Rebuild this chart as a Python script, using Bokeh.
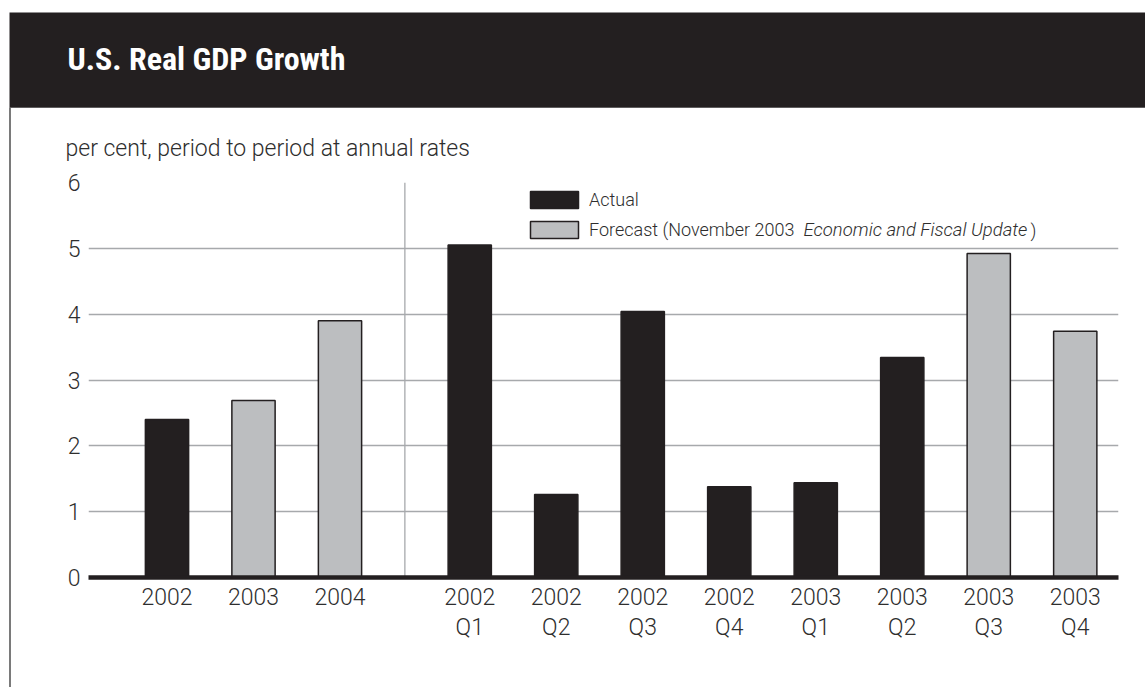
from bokeh.plotting import figure
from bokeh.models import (ColumnDataSource, FixedTicker, Span, Label, Legend, LegendItem,
                          Range1d, Spacer)
from bokeh.layouts import column, row
from bokeh.embed import file_html
from bokeh.resources import INLINE

# ---------------- data ----------------
title_text = "U.S. Real GDP Growth"
subtitle_text = "per cent, period to period at annual rates"

annual_periods = ["2002", "2003", "2004"]
annual_growth = [2.40, 2.69, 3.90]
annual_status = ["Actual", "Forecast", "Forecast"]

quarter_periods = ["2002\nQ1", "2002\nQ2", "2002\nQ3", "2002\nQ4",
                   "2003\nQ1", "2003\nQ2", "2003\nQ3", "2003\nQ4"]
quarter_growth = [5.05, 1.26, 4.04, 1.38, 1.44, 3.34, 4.92, 3.74]
quarter_status = ["Actual", "Actual", "Actual", "Actual",
                  "Actual", "Actual", "Forecast", "Forecast"]

y_ticks = [0, 1, 2, 3, 4, 5, 6]

legend_actual = "Actual"
legend_forecast_lead = "Forecast (November 2003"
legend_forecast_italic = "Economic and Fiscal Update"
legend_forecast_tail = ")"

# ---------------- styling ----------------
DARK = "#231f20"
GREY_BAR = "#bcbec0"
GRID = "#a7a9ac"
TEXT = "#2e2e2e"
FONT = "Roboto Light, Liberation Sans"
TITLE_FONT = "Roboto Condensed, Roboto"

# positions in half-slot units: annual bars, a gap, then quarterly bars
annual_pos = [2 * i for i in range(len(annual_periods))]
quarter_start = annual_pos[-1] + 3
quarter_pos = [quarter_start + 2 * j for j in range(len(quarter_periods))]
separator_pos = (annual_pos[-1] + quarter_pos[0]) / 2

periods = annual_periods + quarter_periods
growth = annual_growth + quarter_growth
status = annual_status + quarter_status
positions = annual_pos + quarter_pos

def subset(kind):
    idx = [i for i, s in enumerate(status) if s == kind]
    return ColumnDataSource(dict(x=[positions[i] for i in idx],
                                 top=[growth[i] for i in idx],
                                 label=[periods[i] for i in idx]))

# ---------------- header band ----------------
hdr = figure(width=1145, height=108, output_backend="svg", toolbar_location=None,
             x_range=Range1d(0, 1), y_range=Range1d(0, 1),
             x_axis_location=None, y_axis_location=None,
             min_border_left=9, min_border_right=0, min_border_top=12, min_border_bottom=0)
hdr.grid.visible = False
hdr.outline_line_color = None
hdr.background_fill_color = DARK
hdr.border_fill_color = "white"
hdr.add_layout(Span(location=0.5, location_units="screen", dimension="width",
                    line_color="#9d9d9d", line_width=1))
hdr.add_layout(Label(x=58, y=50, x_units="screen", y_units="screen", text=title_text,
                     text_font=TITLE_FONT, text_font_style="bold", text_font_size="32px",
                     text_color="white", text_baseline="alphabetic"))

# ---------------- main chart ----------------
p = figure(width=1134, height=579, output_backend="svg", toolbar_location=None,
           x_range=Range1d(positions[0] - 1.815, positions[-1] + 1.0),
           y_range=Range1d(y_ticks[0], y_ticks[-1]),
           min_border_left=77, min_border_right=27,
           min_border_top=74, min_border_bottom=110)
p.outline_line_color = None
p.background_fill_color = "white"
p.border_fill_color = "white"

p.title.text = subtitle_text
p.title.align = "left"
p.title.offset = -23
p.title.standoff = 42
p.title.text_font = FONT
p.title.text_font_style = "normal"
p.title.text_font_size = "23px"
p.title.text_color = TEXT

r_act = p.vbar(x="x", top="top", bottom=0, width=1.0, source=subset("Actual"),
               fill_color=DARK, line_color=DARK, line_width=1.5)
r_fc = p.vbar(x="x", top="top", bottom=0, width=1.0, source=subset("Forecast"),
              fill_color=GREY_BAR, line_color=DARK, line_width=1.5)

p.add_layout(Span(location=separator_pos, dimension="height", line_color=GRID, line_width=1.3,
                  level="underlay"))

p.xaxis.ticker = FixedTicker(ticks=positions)
p.xaxis.major_label_overrides = {pos: lab for pos, lab in zip(positions, periods)}
p.xaxis.axis_line_color = DARK
p.xaxis.axis_line_width = 4.5
p.xaxis.major_tick_line_color = None
p.xaxis.minor_tick_line_color = None
p.xaxis.major_tick_out = 0
p.xaxis.major_tick_in = 0
p.xaxis.major_label_standoff = 6
p.xaxis.major_label_text_font = FONT
p.xaxis.major_label_text_font_size = "23px"
p.xaxis.major_label_text_color = TEXT
p.xaxis.major_label_text_line_height = 1.12

p.yaxis.ticker = FixedTicker(ticks=y_ticks)
p.yaxis.axis_line_color = None
p.yaxis.major_tick_line_color = None
p.yaxis.minor_tick_line_color = None
p.yaxis.major_tick_out = 0
p.yaxis.major_tick_in = 0
p.yaxis.major_label_standoff = 8
p.yaxis.major_label_text_font = FONT
p.yaxis.major_label_text_font_size = "23px"
p.yaxis.major_label_text_color = TEXT

p.xgrid.grid_line_color = None
p.ygrid.grid_line_color = GRID
p.ygrid.grid_line_width = 1.3

legend = Legend(items=[LegendItem(label=legend_actual, renderers=[r_act]),
                       LegendItem(label=legend_forecast_lead, renderers=[r_fc])],
                location=(436, 337), padding=0, margin=0, spacing=9,
                glyph_width=60, glyph_height=21, label_height=21, label_standoff=5,
                label_text_font=FONT, label_text_font_size="18px", label_text_color=TEXT,
                border_line_color=None, background_fill_alpha=0)
p.add_layout(legend)
p.add_layout(Label(x=715, y=347.5, x_units="screen", y_units="screen",
                   text=legend_forecast_italic, text_font=FONT, text_font_style="italic",
                   text_font_size="18.5px", text_color=TEXT, text_baseline="middle"))
p.add_layout(Label(x=942, y=347.5, x_units="screen", y_units="screen",
                   text=legend_forecast_tail, text_font=FONT,
                   text_font_size="18px", text_color=TEXT, text_baseline="middle"))

left_gap = Spacer(width=9, height=579)
left_rule = Spacer(width=2, height=579, styles={"background-color": "#7a7a7a"})

layout = column(hdr, row(left_gap, left_rule, p, spacing=0), spacing=0)

open("out.html", "w").write(file_html(layout, INLINE))
